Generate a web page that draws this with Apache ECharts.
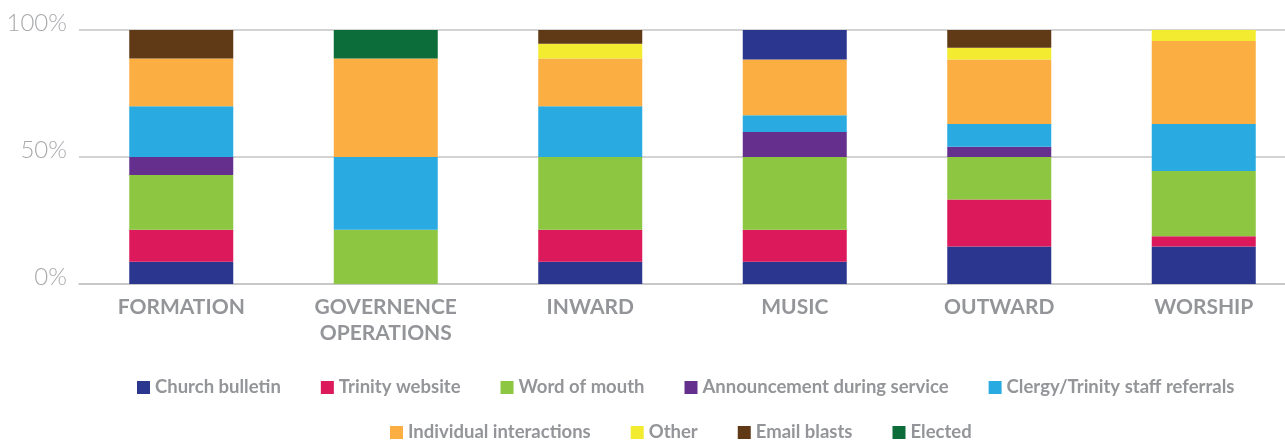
<!DOCTYPE html>
<html>
<head>
<meta charset="utf-8">
<script src="https://cdn.jsdelivr.net/npm/echarts@6/dist/echarts.min.js"></script>
<style>
html,body{margin:0;padding:0;background:#fff;overflow:hidden;}
#chart{width:1306px;height:440px;}
</style>
</head>
<body>
<div id="chart"></div>
<script>
const categories = ['FORMATION', 'GOVERNENCE\nOPERATIONS', 'INWARD', 'MUSIC', 'OUTWARD', 'WORSHIP'];
const yTicks = [0, 50, 100];

const churchBulletin = [8.8, 0, 8.8, 8.8, 14.8, 14.8];
const trinityWebsite = [12.6, 0, 12.6, 12.6, 18.5, 4.0];
const wordOfMouth    = [21.5, 21.4, 28.6, 28.6, 16.7, 25.7];
const announcement   = [7.1, 0, 0, 9.8, 4.0, 0];
const clergyStaff    = [20.0, 28.6, 20.0, 6.6, 9.0, 18.5];
const individual     = [18.8, 38.8, 18.8, 22.0, 25.4, 32.7];
const other          = [0, 0, 5.8, 0, 4.6, 4.3];
const emailBlasts    = [11.2, 0, 5.4, 11.6, 7.0, 0];
const elected        = [0, 11.2, 0, 0, 0, 0];

const seriesNames = ['Church bulletin', 'Trinity website', 'Word of mouth', 'Announcement during service',
  'Clergy/Trinity staff referrals', 'Individual interactions', 'Other', 'Email blasts', 'Elected'];
const seriesData = [churchBulletin, trinityWebsite, wordOfMouth, announcement, clergyStaff, individual, other, emailBlasts, elected];
const colors = ['#2B368F', '#DB195B', '#8DC641', '#652F8E', '#29AAE1', '#FBAE42', '#F3EB2F', '#603916', '#0C6C3A'];

// In the reference, the top segment of MUSIC is drawn in navy
const overrides = { 'Email blasts': { 3: '#2B368F' } };

const gray = '#939598';
const legendText = { color: gray, fontSize: 18.5, fontWeight: 'bold', fontFamily: 'Lato' };
const chart = echarts.init(document.getElementById('chart'));
chart.setOption({
  animation: false,
  color: colors,
  grid: { left: 79, right: 0, top: 30, bottom: 156, containLabel: false },
  legend: [
    {
      data: seriesNames.slice(0, 5), left: 132, top: 373, icon: 'rect', itemWidth: 13, itemHeight: 13,
      itemGap: 40, selectedMode: false, textStyle: legendText
    },
    {
      data: seriesNames.slice(5), left: 385, top: 418, icon: 'rect', itemWidth: 13, itemHeight: 13,
      itemGap: 40, selectedMode: false, textStyle: legendText
    }
  ],
  xAxis: {
    type: 'category', data: categories,
    axisLine: { show: true, lineStyle: { color: '#C4C4C4', width: 1.5 } },
    axisTick: { show: false },
    axisLabel: { color: gray, fontSize: 21, fontWeight: 'bold', fontFamily: 'Lato', lineHeight: 26, margin: 10 }
  },
  yAxis: {
    type: 'value', min: 0, max: 100, interval: 50,
    axisLine: { show: false }, axisTick: { show: false },
    splitLine: { lineStyle: { color: '#C4C4C4', width: 1.5 } },
    axisLabel: {
      color: '#A7A9AC', fontSize: 24, fontWeight: 300, fontFamily: 'Lato', margin: 12,
      verticalAlign: 'bottom', lineHeight: 14,
      formatter: v => (yTicks.indexOf(v) >= 0 ? v + '%' : '')
    }
  },
  series: seriesNames.map((name, i) => ({
    name, type: 'bar', stack: 'total', barWidth: 104,
    data: seriesData[i].map((v, j) => (overrides[name] && overrides[name][j])
      ? { value: v, itemStyle: { color: overrides[name][j] } } : v)
  }))
});
</script>
</body>
</html>
